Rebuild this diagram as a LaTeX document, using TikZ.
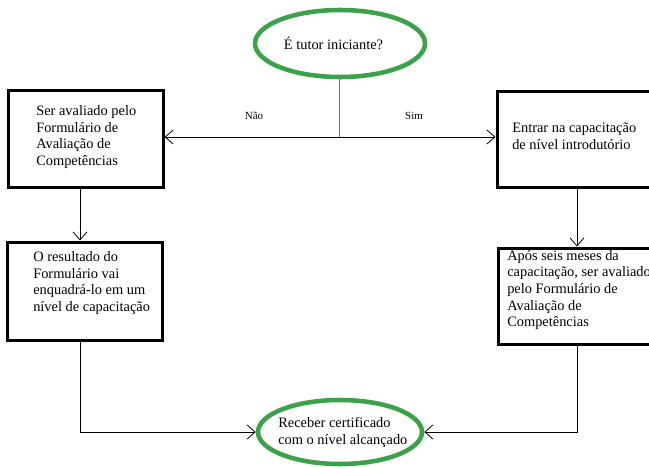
\documentclass[tikz,border=0pt]{standalone}
\usepackage{fontspec}
\setmainfont{Liberation Serif}
\usetikzlibrary{shapes.geometric,arrows.meta}
\definecolor{ovalgreen}{RGB}{58,163,74}
\definecolor{stemgray}{RGB}{110,110,110}
\tikzset{
  box/.style={draw=black,line width=2.25pt,rectangle,inner sep=0pt},
  oval/.style={draw=ovalgreen,line width=3.4pt,ellipse,inner sep=0pt},
  txt/.style={align=left,inner sep=0pt,anchor=west,font=\fontsize{10.8pt}{12.5pt}\selectfont},
  lbl/.style={inner sep=0pt,font=\fontsize{8.2pt}{10pt}\selectfont},
  conn/.style={draw=black,line width=0.75pt},
  arr/.style={conn,-{Straight Barb[length=6pt,width=10.5pt,line width=0.6pt]}}
}
\begin{document}
\begin{tikzpicture}[x=0.75pt,y=-0.75pt]
\useasboundingbox (0,0) rectangle (649,467);
\clip (0,0) rectangle (649,467);
\fill[white] (0,0) rectangle (649,467);
% shapes
\node[oval,minimum width=127.5pt,minimum height=50.25pt] (q) at (340,43.5) {};
\node[box,minimum width=116.25pt,minimum height=72.75pt] (b1) at (85.5,138.5) {};
\node[box,minimum width=116.25pt,minimum height=73.5pt] (b2) at (84.5,291) {};
\node[box,minimum width=126pt,minimum height=72pt] (r1) at (581,139) {};
\node[box,minimum width=125.25pt,minimum height=72pt] (r2) at (581.5,296) {};
\node[oval,minimum width=123pt,minimum height=48pt] (e2) at (340,432) {};
% texts
\node[txt,anchor=center] (qt) at (333.5,43) {É tutor iniciante?};
\node[txt] (b1t) at (36,137) {Ser avaliado pelo\\Formulário de\\Avaliação de\\Competências};
\node[txt] (b2t) at (33,283) {O resultado do\\Formulário vai\\enquadrá-lo em um\\nível de capacitação};
\node[txt] (r1t) at (512,136.5) {Entrar na capacitação\\de nível introdutório};
\node[txt] (r2t) at (507,290) {Após seis meses da\\capacitação, ser avaliado\\pelo Formulário de\\Avaliação de\\Competências};
\node[txt] (e2t) at (278,432.5) {Receber certificado\\com o nível alcançado};
\node[lbl] (nao) at (254,116) {Não};
\node[lbl] (sim) at (414,116) {Sim};
% connectors
\coordinate (split) at (339,137);
\coordinate (cL) at (80,0);
\coordinate (cR) at (577,0);
\draw[draw=stemgray,line width=0.75pt] (q.south -| split) -- (split);
\draw[arr] (split) -- (split -| b1.east);
\draw[arr] (split) -- (split -| r1.west);
\draw[arr] (b1.south -| cL) -- (b2.north -| cL);
\draw[arr] (r1.south -| cR) -- (r2.north -| cR);
\draw[arr] (b2.south -| cL) -- (cL |- e2.west) -- (e2.west);
\draw[arr] (r2.south -| cR) -- (cR |- e2.east) -- (e2.east);
\end{tikzpicture}
\end{document}
